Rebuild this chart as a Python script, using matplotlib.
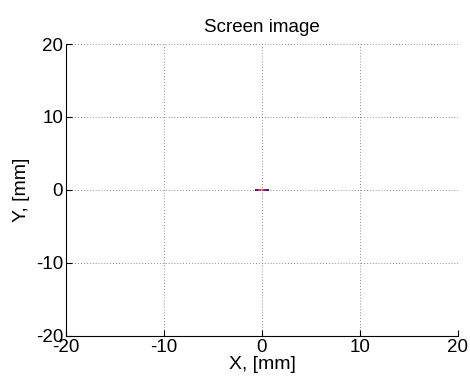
import numpy as np
import matplotlib
matplotlib.use("Agg")
import matplotlib.pyplot as plt

# spot on the screen (mm) with relative intensity
spot_x = [-0.6, -0.45, -0.3, -0.15, 0.0, 0.15, 0.3, 0.45, 0.6]
spot_y = [0.0, 0.0, 0.0, 0.0, 0.0, 0.0, 0.0, 0.0, 0.0]
spot_i = [0.2, 0.3, 0.45, 0.7, 1.0, 0.7, 0.45, 0.3, 0.2]

ticks = [-20, -10, 0, 10, 20]

plt.rcParams['font.family'] = ['Liberation Sans', 'DejaVu Sans']
plt.rcParams['axes.unicode_minus'] = False

fig = plt.figure(figsize=(4.7, 3.87), dpi=100)
ax = fig.add_axes([0.1404, 0.1318, 0.834, 0.7545])

ax.scatter(spot_x, spot_y, c=spot_i, cmap='magma', vmin=-0.2, vmax=1.4,
           marker='s', s=3, linewidths=0, zorder=3)

ax.set_xlim(-20, 20)
ax.set_ylim(-20, 20)
ax.set_xticks(ticks)
ax.set_yticks(ticks)
ax.tick_params(direction='in', length=4, labelsize=13.5, pad=2)
ax.grid(True, linestyle=(0, (1, 2.5)), color='#666666', linewidth=0.6)
for s in ['top', 'right']:
    ax.spines[s].set_visible(False)
for s in ['left', 'bottom']:
    ax.spines[s].set_linewidth(0.8)

ax.set_xlabel("X, [mm]", fontsize=14, labelpad=0)
ax.set_ylabel("Y, [mm]", fontsize=14, labelpad=4)
ax.set_title("Screen image", fontsize=13.5, pad=9)

fig.savefig("out.png", dpi=100)
